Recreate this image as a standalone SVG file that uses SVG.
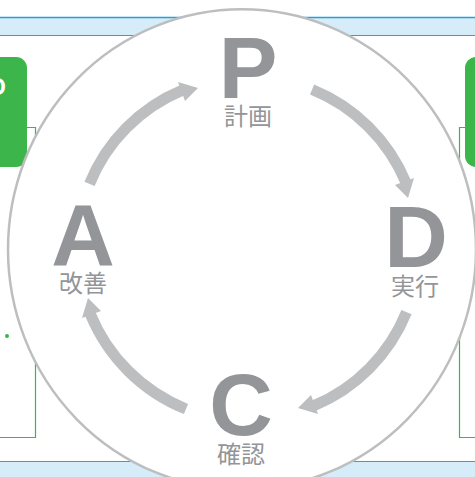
<svg xmlns="http://www.w3.org/2000/svg" width="475" height="477" viewBox="0 0 475 477">
<style>
.band{fill:#d6ecf8}
.gl{stroke:#3cb54a;stroke-width:1.2;fill:none}
.gbox{fill:#3cb54a}
.big{font-family:"Liberation Sans",Arial,sans-serif;font-weight:bold;font-size:88px;fill:#939598;text-anchor:middle}
.lbl{font-family:"Noto Sans CJK JP","Noto Sans",sans-serif;font-size:24px;fill:#939598;text-anchor:middle}
.arc{fill:none;stroke:#bcbec0;stroke-width:11;stroke-linecap:butt}
.head{fill:#bcbec0}
</style>
<rect width="475" height="477" fill="#ffffff"/>
<g id="background">
<rect class="band" x="0" y="18" width="475" height="17"/>
<line x1="0" y1="17.5" x2="475" y2="17.5" stroke="#1ea3dc" stroke-width="1.5"/>
<line class="gl" x1="0" y1="35.5" x2="475" y2="35.5"/>
<rect class="band" x="0" y="462" width="475" height="15"/>
<line class="gl" x1="0" y1="461.5" x2="475" y2="461.5"/>
<polyline class="gl" points="0,127.5 35.5,127.5 35.5,437.5 0,437.5"/>
<polyline class="gl" points="475,127.5 459.5,127.5 459.5,437.5 475,437.5"/>
<circle cx="7" cy="336" r="2" fill="#3cb54a"/>
<rect class="gbox" x="-20" y="57" width="47" height="110" rx="11"/>
<rect class="gbox" x="465" y="57" width="40" height="110" rx="11"/>
<text x="6" y="95" font-family="Liberation Sans,Arial,sans-serif" font-weight="bold" font-size="24" fill="#ffffff" text-anchor="end">O</text>
</g>
<ellipse id="cycle" cx="242" cy="249.3" rx="234" ry="240" fill="#ffffff" stroke="#bcbec0" stroke-width="2.5"/>
<g id="connectors">
<path class="arc" d="M89.5,183.9 A171,171 0 0 1 182.5,90.1"/>
<polygon class="head" points="178,82 198,88 185,101"/>
<path class="arc" d="M312.1,89.5 A171,171 0 0 1 405.9,182.5"/>
<polygon class="head" points="414,178 408,198 395,185"/>
<path class="arc" d="M406.5,312.1 A171,171 0 0 1 313.5,405.9"/>
<polygon class="head" points="318,414 298,408 311,395"/>
<path class="arc" d="M186,409 A173,173 0 0 1 90.1,313.5"/>
<polygon class="head" points="82,318 88,298 101,311"/>
</g>
<g id="node-p">
<text class="big" x="248" y="98">P</text>
<text class="lbl" x="248" y="125">計画</text>
</g>
<g id="node-d">
<text class="big" x="416" y="267">D</text>
<text class="lbl" x="415" y="295">実行</text>
</g>
<g id="node-c">
<text class="big" x="241" y="435">C</text>
<text class="lbl" x="241" y="463">確認</text>
</g>
<g id="node-a">
<text class="big" x="83" y="265">A</text>
<text class="lbl" x="83" y="292">改善</text>
</g>
</svg>
